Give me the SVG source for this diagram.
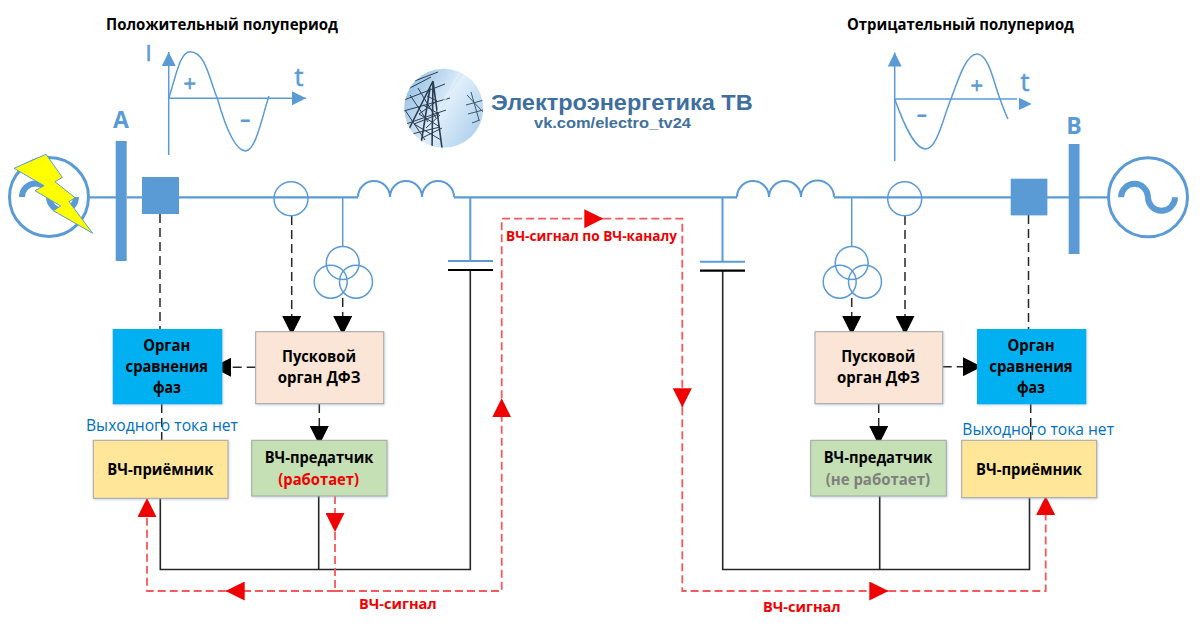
<svg xmlns="http://www.w3.org/2000/svg" width="1200" height="636" viewBox="0 0 1200 636">
<style>
text{font-family:"Open Sans","Noto Sans","Liberation Sans",sans-serif}
.b{font-weight:700;font-size:16px;fill:#000}
.bl{fill:#5b9bd5}
.sg{stroke:#5b9bd5;stroke-width:0.6}
.ln{fill:none;stroke:#5b9bd5;stroke-width:2}
.th{fill:none;stroke:#5b9bd5;stroke-width:1.5}
.blk{fill:none;stroke:#262626;stroke-width:1.6}
.dsh{fill:none;stroke:#262626;stroke-width:1.5;stroke-dasharray:9 5}
.red{fill:none;stroke:#f4595c;stroke-width:1.8;stroke-dasharray:8 4}
.box{stroke:#a6a6a6;stroke-width:1;filter:url(#sh)}
.lg{font-family:"Liberation Sans","Open Sans",sans-serif;font-weight:700}
</style>
<defs>
<filter id="sh" x="-5%" y="-5%" width="112%" height="115%"><feDropShadow dx="0.7" dy="1" stdDeviation="1" flood-color="#7f9fbf" flood-opacity="0.45"/></filter>
<filter id="bl"><feGaussianBlur stdDeviation="0.45"/></filter>
<marker id="ak" viewBox="0 0 19 19" refX="19" refY="9.5" markerWidth="19" markerHeight="19" markerUnits="userSpaceOnUse" orient="auto"><polygon points="0,0 19,9.5 0,19" fill="#000"/></marker>
<marker id="ar" viewBox="0 0 19 19" refX="19" refY="9.5" markerWidth="19" markerHeight="19" markerUnits="userSpaceOnUse" orient="auto"><polygon points="0,0 19,9.5 0,19" fill="#f00000"/></marker>
<marker id="au" viewBox="0 0 14 14" refX="14" refY="7" markerWidth="14" markerHeight="14" markerUnits="userSpaceOnUse" orient="auto"><polygon points="0,0 14,7 0,14" fill="#5b9bd5"/></marker>
<clipPath id="lc"><circle cx="443.7" cy="108.3" r="39.5"/></clipPath>
<linearGradient id="sky" x1="0" y1="0" x2="1" y2="0.6"><stop offset="0" stop-color="#86b6e0"/><stop offset="0.6" stop-color="#dfeefa"/><stop offset="1" stop-color="#b4d4ee"/></linearGradient>
</defs>
<rect width="1200" height="636" fill="#fff"/>

<g id="connectors">
<path class="ln" d="M90 197.3H116M127 197.3H142M179 197.3H358M834 197.3H1011M1047 197.3H1069M1079 197.3H1108M454 197.3H737" style="stroke-width:2.2"/>
<path class="th" d="M342.7 197.3V247M851.7 197.3V247"/>
<path class="ln" d="M470.3 197.3V261M722.5 197.3V261"/>
<path class="blk" d="M470.3 270V569.5H160.3V498M318.7 496V569.5M722.7 270V569.5H1029.5V497.7M879.7 496V569.5"/>
<path class="dsh" d="M160 214V329M161.700 404V440M1028.500 215V329M1030.700 404V440"/>
<path class="dsh" d="M291.700 216V335" marker-end="url(#ak)"/>
<path class="dsh" d="M342.700 298V335" marker-end="url(#ak)"/>
<path class="dsh" d="M255.700 367.300H212" marker-end="url(#ak)"/>
<path class="dsh" d="M319.300 404V445" marker-end="url(#ak)"/>
<path class="dsh" d="M851.700 298V335" marker-end="url(#ak)"/>
<path class="dsh" d="M905 216V335" marker-end="url(#ak)"/>
<path class="dsh" d="M942.700 366.700H982" marker-end="url(#ak)"/>
<path class="dsh" d="M878.700 404V445" marker-end="url(#ak)"/>
<path class="red" d="M335 496V532" marker-end="url(#ar)"/>
<path class="red" d="M335 532V591"/>
<path class="red" d="M335 591H225.700" marker-end="url(#ar)"/>
<path class="red" d="M225.700 591H147V498" marker-end="url(#ar)"/>
<path class="red" d="M335 591H501.700V398.300" marker-end="url(#ar)"/>
<path class="red" d="M501.700 398.300V218.700H603.300" marker-end="url(#ar)"/>
<path class="red" d="M603.300 218.700H682.300V407.300" marker-end="url(#ar)"/>
<path class="red" d="M682.300 407.300V591H888.300" marker-end="url(#ar)"/>
<path class="red" d="M888.300 591H1045.700V496" marker-end="url(#ar)"/>
</g>

<g id="title-left"><text class="b" x="106" y="29.500" textLength="232" lengthAdjust="spacingAndGlyphs">Положительный полупериод</text></g>
<g id="title-right"><text class="b" x="847" y="30" textLength="227" lengthAdjust="spacingAndGlyphs">Отрицательный полупериод</text></g>

<g id="wave-left">
<path class="th" d="M168.700 155V52" marker-end="url(#au)"/>
<path class="th" d="M168.700 98.300H306" marker-end="url(#au)"/>
<path class="th" d="M168.700 98.300C176 76 180 51.700 190 51.700C206 51.700 210 82 217.300 98.300C224 122 234 151 245.700 151C256 151 263 113 269 96"/>
<text class="bl sg" x="145.500" y="60.700" font-size="22">I</text>
<text class="bl sg" x="294.500" y="86" font-size="25">t</text>
<text class="bl sg" x="189.700" y="90.500" font-size="22" text-anchor="middle">+</text>
<text class="bl" x="245.300" y="127" font-size="21" font-weight="700" text-anchor="middle">–</text>
</g>
<g id="wave-right">
<path class="th" d="M894.700 161V52.500" marker-end="url(#au)"/>
<path class="th" d="M894.700 99H1017"/>
<polygon points="1019,97.700 1031.700,104 1019,110" fill="#5b9bd5"/>
<path class="th" d="M894.700 99C903 122 914 149 925.700 149C937 149 943 118 951 99C958 80 966 54 977 54C989 54 994 84 1000 99C1003 107 1005 113 1008 119"/>
<text class="bl sg" x="1020.500" y="90.700" font-size="25">t</text>
<text class="bl sg" x="976.700" y="92.500" font-size="22" text-anchor="middle">+</text>
<text class="bl" x="921.700" y="122" font-size="21" font-weight="700" text-anchor="middle">–</text>
</g>

<g id="logo">
<circle cx="443.700" cy="108.300" r="39.500" fill="url(#sky)"/>
<g clip-path="url(#lc)" filter="url(#bl)" fill="none" stroke="#2b3d50" stroke-width="1">
<path d="M433 81L406 135M433 81L442 148M430 88L420 150M433 81L432 150" stroke-width="1.600"/>
<path d="M404 100L445 84M400 112L450 98M403 125L446 110M427 96L437 101M423 105L439 114M419 114L440 127M414 124L441 140M437 101L419 114M439 114L414 124M440 127L408 135M406 90L431 77M412 82L438 72M410 95L428 122M405 110L425 140M418 88L436 118M426 128L440 115M422 138L442 128"/>
<path d="M467 95L483 112M471 92L479 120M466 105L484 100M468 114L483 110M472 123L480 120" stroke="#40566c"/>
</g>
<g clip-path="url(#lc)" stroke="#eef6fc" stroke-width="0.800" fill="none"><path d="M437 112L460 72M445 100L465 75"/></g>
<text class="lg" x="491" y="110" textLength="261.700" lengthAdjust="spacingAndGlyphs" font-size="22" fill="#3f6f9f">Электроэнергетика ТВ</text>
<text class="lg" x="534" y="128" textLength="157" lengthAdjust="spacingAndGlyphs" font-size="14.500" fill="#41719c">vk.com/electro_tv24</text>
</g>

<g id="gen-a">
<circle class="ln" cx="49" cy="197" r="39.500" style="stroke-width:3"/>
<path class="ln" d="M22 197a13.500 13.500 0 0 1 27 0a13.500 13.500 0 0 0 27 0" style="stroke-width:6"/>
</g>
<g id="lightning"><polygon points="46,154.300 14,168.300 44,185.700 35,190.700 60.700,206 53.300,210.700 92.700,233.300 69,201.700 75,197.700 55,181.700 62.300,177.300" fill="#ffff00" stroke="#5b9bd5" stroke-width="1"/></g>
<g id="bus-a"><rect x="115.700" y="141" width="11" height="120" fill="#5b9bd5"/><text class="bl" x="121" y="128" font-size="23" font-weight="700" text-anchor="middle">А</text></g>
<g id="breaker-a"><rect x="142" y="177" width="37" height="37" fill="#5b9bd5"/></g>
<g id="ct-a"><circle class="ln" cx="291" cy="198.700" r="17" style="stroke-width:1.500"/></g>
<g id="choke-a"><path class="ln" d="M358 197a16 16 0 0 1 32 0a16 16 0 0 1 32 0a16 16 0 0 1 32 0"/></g>
<g id="pt-a" class="th"><circle cx="342.700" cy="263" r="16.500"/><circle cx="330.700" cy="281.700" r="16.500"/><circle cx="356" cy="281.700" r="16.500"/></g>
<g id="cap-a"><path d="M448 261H493" stroke="#5b9bd5" stroke-width="2" fill="none"/><path d="M448 270H493" stroke="#000" stroke-width="2.200" fill="none"/></g>

<g id="gen-b">
<circle class="ln" cx="1148" cy="197.300" r="39.500" style="stroke-width:3"/>
<path class="ln" d="M1121 197.300a13.500 13.500 0 0 1 27 0a13.500 13.500 0 0 0 27 0" style="stroke-width:6"/>
</g>
<g id="bus-b"><rect x="1068.700" y="144" width="10.800" height="110" fill="#5b9bd5"/><text class="bl" x="1074" y="134" font-size="23" font-weight="700" text-anchor="middle">В</text></g>
<g id="breaker-b"><rect x="1010.700" y="178.700" width="36.700" height="36.700" fill="#5b9bd5"/></g>
<g id="ct-b"><circle class="ln" cx="904.700" cy="198.700" r="17" style="stroke-width:1.500"/></g>
<g id="choke-b"><path class="ln" d="M737 197a16 16 0 0 1 32 0a16 16 0 0 1 32 0a16 16 0 0 1 33 0"/></g>
<g id="pt-b" class="th"><circle cx="851.700" cy="263" r="16.500"/><circle cx="839.700" cy="281.700" r="16.500"/><circle cx="865" cy="281.700" r="16.500"/></g>
<g id="cap-b"><path d="M700 261.700H745" stroke="#5b9bd5" stroke-width="2" fill="none"/><path d="M700 270.700H745" stroke="#000" stroke-width="2.200" fill="none"/></g>

<g id="compare-a"><rect x="112.700" y="329" width="109.600" height="75.300" fill="#00b0f0" style="filter:url(#sh)"/>
<text class="b" x="143.200" y="350.700" textLength="47" lengthAdjust="spacingAndGlyphs">Орган</text>
<text class="b" x="125.600" y="371.700" textLength="82.500" lengthAdjust="spacingAndGlyphs">сравнения</text>
<text class="b" x="153" y="393.300" textLength="28" lengthAdjust="spacingAndGlyphs">фаз</text></g>
<g id="start-a"><rect class="box" x="255.700" y="331.700" width="128" height="72" fill="#fbe5d6"/>
<text class="b" x="282" y="362.300" textLength="74" lengthAdjust="spacingAndGlyphs">Пусковой</text>
<text class="b" x="277.700" y="383.300" textLength="82.700" lengthAdjust="spacingAndGlyphs">орган ДФЗ</text></g>
<g id="rx-a"><rect class="box" x="93.300" y="440.300" width="134.700" height="58" fill="#ffe699"/>
<text class="b" x="107.300" y="475" textLength="106" lengthAdjust="spacingAndGlyphs">ВЧ-приёмник</text></g>
<g id="tx-a"><rect class="box" x="251.700" y="440.300" width="135.300" height="55.700" fill="#c5e0b4"/>
<text class="b" x="264.700" y="463.300" textLength="108.600" lengthAdjust="spacingAndGlyphs">ВЧ-предатчик</text>
<text class="b" x="278.300" y="485" textLength="80.700" lengthAdjust="spacingAndGlyphs" style="fill:#f00000">(работает)</text></g>

<g id="compare-b"><rect x="977" y="329" width="109.300" height="75.300" fill="#00b0f0" style="filter:url(#sh)"/>
<text class="b" x="1007.500" y="350.700" textLength="47" lengthAdjust="spacingAndGlyphs">Орган</text>
<text class="b" x="989.300" y="371.700" textLength="83.400" lengthAdjust="spacingAndGlyphs">сравнения</text>
<text class="b" x="1017" y="393.300" textLength="28" lengthAdjust="spacingAndGlyphs">фаз</text></g>
<g id="start-b"><rect class="box" x="815" y="331.700" width="127.700" height="72" fill="#fbe5d6"/>
<text class="b" x="841.300" y="362.300" textLength="74" lengthAdjust="spacingAndGlyphs">Пусковой</text>
<text class="b" x="837" y="383.300" textLength="82.700" lengthAdjust="spacingAndGlyphs">орган ДФЗ</text></g>
<g id="tx-b"><rect class="box" x="810.700" y="440.300" width="135.600" height="55.700" fill="#c5e0b4"/>
<text class="b" x="823.700" y="463.300" textLength="108.600" lengthAdjust="spacingAndGlyphs">ВЧ-предатчик</text>
<text class="b" x="825.700" y="485" textLength="104.300" lengthAdjust="spacingAndGlyphs" style="fill:#7f7f7f">(не работает)</text></g>
<g id="rx-b"><rect class="box" x="961.700" y="440.300" width="135" height="57.400" fill="#ffe699"/>
<text class="b" x="976" y="475" textLength="106" lengthAdjust="spacingAndGlyphs">ВЧ-приёмник</text></g>

<g id="labels">
<text x="86" y="431" textLength="152" lengthAdjust="spacingAndGlyphs" font-size="15.500" fill="#0070c0">Выходного тока нет</text>
<text x="962.300" y="435" textLength="151.700" lengthAdjust="spacingAndGlyphs" font-size="15.500" fill="#0070c0">Выходного тока нет</text>
<text x="506" y="241" textLength="171" lengthAdjust="spacingAndGlyphs" font-size="14.500" font-weight="700" fill="#f00000">ВЧ-сигнал по ВЧ-каналу</text>
<text x="359" y="609" textLength="77.700" lengthAdjust="spacingAndGlyphs" font-size="15" font-weight="700" fill="#f00000">ВЧ-сигнал</text>
<text x="763" y="611.700" textLength="77.700" lengthAdjust="spacingAndGlyphs" font-size="15" font-weight="700" fill="#f00000">ВЧ-сигнал</text>
</g>
</svg>
